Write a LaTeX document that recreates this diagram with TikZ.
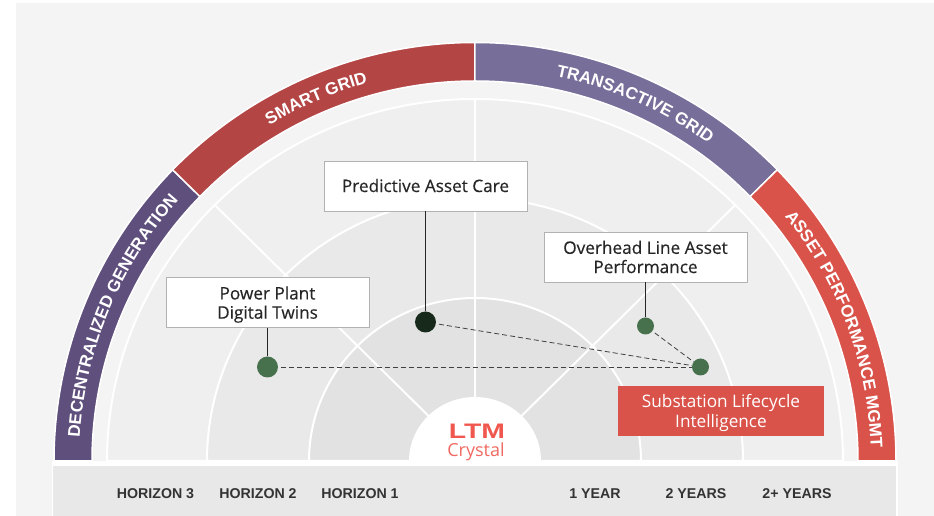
\documentclass[tikz,border=0pt]{standalone}
\usepackage{fontspec}
\setmainfont{Open Sans}
\newfontfamily\boxfont[FakeBold=0.35]{Open Sans}
\newfontfamily\bandfont{Liberation Sans}
\newfontfamily\logofont[FakeStretch=1.35]{Liberation Sans}
\usetikzlibrary{decorations.text}
\definecolor{pagegrey}{HTML}{F4F4F4}
\definecolor{fanA}{HTML}{EFEFEF}
\definecolor{fanB}{HTML}{E9E9E9}
\definecolor{fanC}{HTML}{E2E2E2}
\definecolor{stripgrey}{HTML}{E8E8E8}
\definecolor{bandpurple}{HTML}{5F4F7D}
\definecolor{bandred}{HTML}{B44545}
\definecolor{bandlav}{HTML}{776E99}
\definecolor{bandcoral}{HTML}{D9534A}
\definecolor{dotgreen}{HTML}{47714D}
\definecolor{dotdark}{HTML}{17291A}
\definecolor{logored}{HTML}{F0584F}
\tikzset{
  bandseg/.style={fill=#1, draw=white, line width=1.5pt},
  fansec/.style={fill=#1, draw=white, line width=2pt},
  spoke/.style={draw=white, line width=2pt},
  labelbox/.style={draw=black!30, line width=0.8pt, fill=white, minimum width=203pt, minimum height=50pt, align=center, inner sep=0pt, text=black!85, font=\boxfont\fontsize{17.2}{19.2}\selectfont},
  hotbox/.style={fill=bandcoral, minimum width=206pt, minimum height=50pt, align=center, inner sep=0pt, text=white, font=\fontsize{17.2}{19.2}\selectfont},
  bigdot/.style={circle, fill=#1, minimum size=21pt, inner sep=0pt},
  smalldot/.style={circle, fill=#1, minimum size=17pt, inner sep=0pt},
  stem/.style={draw=black!85, line width=0.8pt},
  dashlink/.style={draw=black!75, line width=0.8pt, dash pattern=on 5pt off 3pt, shorten <=3pt},
  axislabel/.style={text=black!80, inner sep=0pt, font=\bandfont\bfseries\fontsize{14.2}{14.2}\selectfont},
  bandtext/.style={decorate, decoration={text along path, text align=center, text={|\bandfont\bfseries\fontsize{17}{17}\selectfont\color{white}|#1}}},
}
% one piece of the outer band, clockwise from #1 to #2
\newcommand{\bandpiece}[3]{
  \path[bandseg=#3] (#1:421 and 418.5) arc[start angle=#1, end angle=#2, x radius=421, y radius=418.5]
    -- (#2:383 and 380) arc[start angle=#2, end angle=#1, x radius=383, y radius=380] -- cycle;
}
\newcommand{\fanpiece}[3]{
  \path[fansec=#3] (-#1,0) arc[start angle=180, end angle=0, x radius=#1, y radius=#2] -- cycle;
}
\newcommand{\bandlabel}[3]{
  \path[bandtext={#3}] (#1:396 and 393) arc[start angle=#1, end angle=#2, x radius=396, y radius=393];
}
\begin{document}
\begin{tikzpicture}[x=1pt,y=1pt]
  \useasboundingbox (-475,-55) rectangle (459,461);
  \fill[pagegrey] (-459,-55) rectangle (459,458);

  % outer band
  \bandpiece{180}{135.9}{bandpurple}
  \bandpiece{135.9}{90}{bandred}
  \bandpiece{90}{44.1}{bandlav}
  \bandpiece{44.1}{0}{bandcoral}
  \bandlabel{180.5}{134.5}{DECENTRALIZED GENERATION}
  \bandlabel{135}{92}{SMART GRID}
  \bandlabel{88}{44}{TRANSACTIVE GRID}
  \bandlabel{41.5}{-1}{ASSET PERFORMANCE MGMT}

  % horizon rings
  \fanpiece{368}{362}{fanA}
  \fanpiece{268}{263}{fanB}
  \fanpiece{166}{163}{fanC}
  \draw[spoke] (135:65 and 63) -- (135:368 and 362);
  \draw[spoke] (90:63) -- (90:362);
  \draw[spoke] (45:65 and 63) -- (45:368 and 362);
  \path[fansec=white] (-65,0) arc[start angle=180, end angle=0, x radius=65, y radius=63] -- cycle;
  \node[text=logored, inner sep=0pt, font=\logofont\bfseries\fontsize{21}{21}\selectfont] (logo) at (2,29.5) {LTM};
  \node[text=logored!90, inner sep=0pt, font=\fontsize{18}{18}\selectfont] (crystal) at (1,9) {Crystal};

  % bottom strip
  \fill[white] (-423,0) rectangle (423,-55);
  \fill[stripgrey] (-421.5,-5) rectangle (421,-55);
  \node[axislabel] (hthree) at (-319.5,-32.5) {HORIZON 3};
  \node[axislabel] (htwo) at (-217,-32.5) {HORIZON 2};
  \node[axislabel] (hone) at (-115,-32.5) {HORIZON 1};
  \node[axislabel] (yone) at (120,-32.5) {1 YEAR};
  \node[axislabel] (ytwo) at (221,-32.5) {2 YEARS};
  \node[axislabel] (ymore) at (322,-32.5) {2+ YEARS};

  % boxes and dots
  \node[labelbox] (care) at (-49.5,275) {\raisebox{1pt}{Predictive Asset Care}};
  \node[labelbox] (plant) at (-207.5,158.5) {Power Plant\\\smash{Digital Twins}};
  \node[labelbox] (line) at (170.5,204) {Overhead Line Asset\\Performance};
  \node[hotbox] (sub) at (246,50) {Substation Lifecycle\\\smash{Intelligence}};
  \node[bigdot=dotgreen] (plantdot) at (-207.5,94) {};
  \node[bigdot=dotdark] (caredot) at (-49.5,139) {};
  \node[smalldot=dotgreen] (linedot) at (170.5,135) {};
  \node[smalldot=dotgreen] (subdot) at (225.5,94) {};

  \draw[stem] (care) -- (caredot);
  \draw[stem] (plant) -- (plantdot);
  \draw[stem] (line) -- (linedot);
  \draw[dashlink] (plantdot) -- (subdot);
  \draw[dashlink] (caredot) -- (subdot);
  \draw[dashlink] (linedot) -- (subdot);
\end{tikzpicture}
\end{document}
